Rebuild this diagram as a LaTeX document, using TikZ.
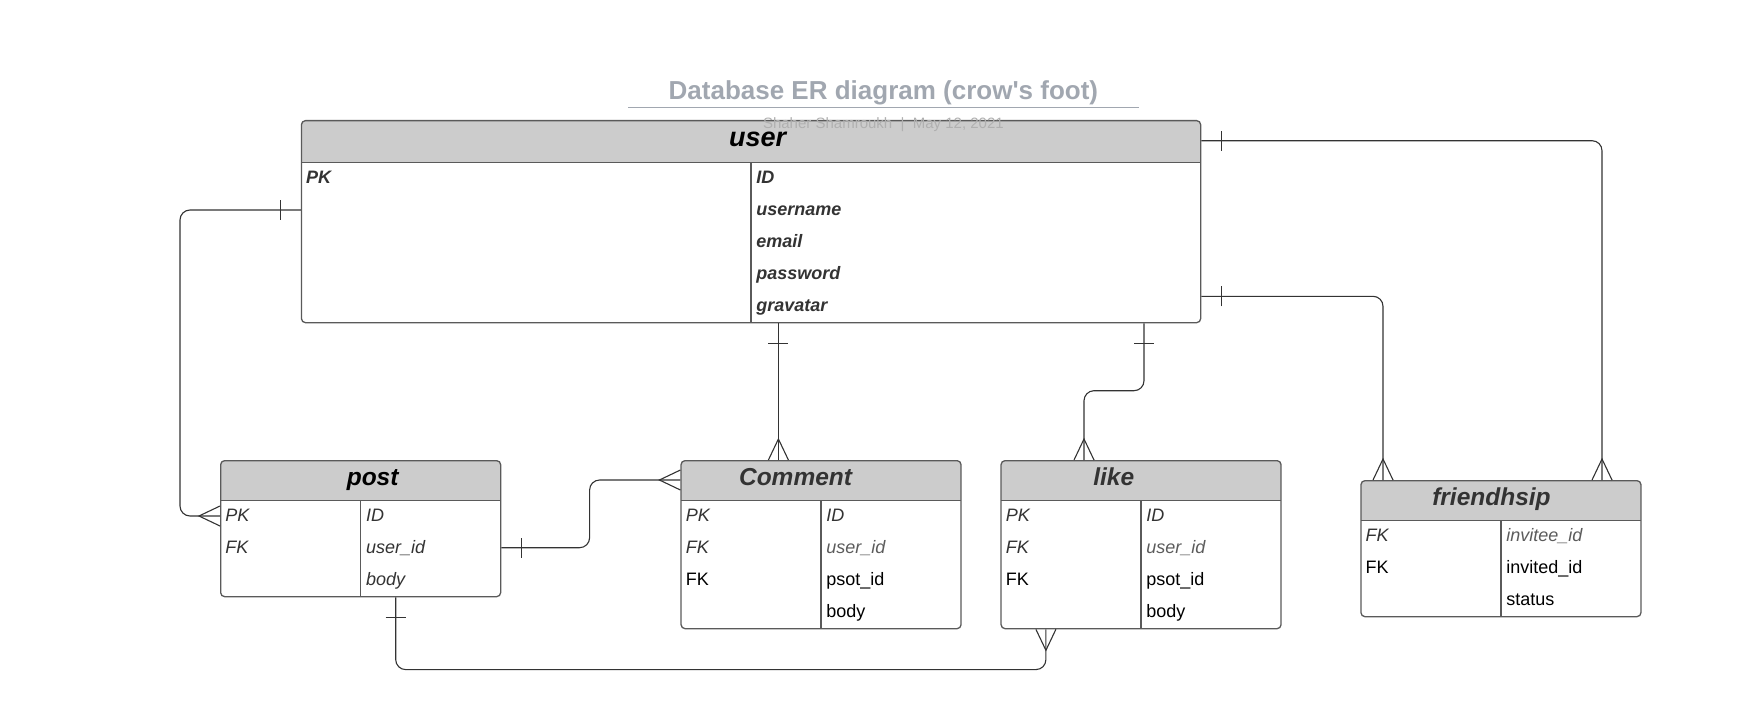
\documentclass[tikz,border=0pt]{standalone}
\usepackage{fontspec}
\setmainfont{Liberation Sans}
\usepackage{tikz}
\usetikzlibrary{arrows.meta}

\definecolor{headfill}{HTML}{CCCCCC}
\definecolor{boxline}{HTML}{5A5A5A}
\definecolor{relline}{HTML}{333333}
\definecolor{titlegray}{HTML}{A1A7B0}
\definecolor{subgray}{HTML}{B0B0B0}
\definecolor{textdark}{HTML}{333333}
\definecolor{textsoft}{HTML}{5C5C5C}

% crow's foot and bar ends
\pgfdeclarearrow{
  name = Many,
  parameters = {\the\pgfarrowlength,\the\pgfarrowwidth},
  setup code = {
    \pgfarrowssettipend{0pt}
    \pgfarrowssetlineend{0pt}
    \pgfarrowssetbackend{-\pgfarrowlength}
    \pgfarrowshullpoint{0pt}{.5\pgfarrowwidth}
    \pgfarrowshullpoint{0pt}{-.5\pgfarrowwidth}
    \pgfarrowshullpoint{-\pgfarrowlength}{0pt}
    \pgfarrowssavethe\pgfarrowlength
    \pgfarrowssavethe\pgfarrowwidth
  },
  drawing code = {
    \pgfpathmoveto{\pgfqpoint{0pt}{.5\pgfarrowwidth}}
    \pgfpathlineto{\pgfqpoint{-\pgfarrowlength}{0pt}}
    \pgfpathlineto{\pgfqpoint{0pt}{-.5\pgfarrowwidth}}
    \pgfusepathqstroke
  },
  defaults = {length=10.5pt, width=10pt}
}
\pgfdeclarearrow{
  name = One,
  parameters = {\the\pgfarrowlength,\the\pgfarrowwidth},
  setup code = {
    \pgfarrowssettipend{0pt}
    \pgfarrowssetlineend{0pt}
    \pgfarrowssetbackend{-\pgfarrowlength}
    \pgfarrowshullpoint{-\pgfarrowlength}{.5\pgfarrowwidth}
    \pgfarrowshullpoint{-\pgfarrowlength}{-.5\pgfarrowwidth}
    \pgfarrowshullpoint{0pt}{0pt}
    \pgfarrowssavethe\pgfarrowlength
    \pgfarrowssavethe\pgfarrowwidth
  },
  drawing code = {
    \pgfpathmoveto{\pgfqpoint{-\pgfarrowlength}{.5\pgfarrowwidth}}
    \pgfpathlineto{\pgfqpoint{-\pgfarrowlength}{-.5\pgfarrowwidth}}
    \pgfusepathqstroke
  },
  defaults = {length=10pt, width=10pt}
}

\begin{document}
\begin{tikzpicture}[
    x=0.5pt, y=-0.5pt,
    entity/.style={rectangle, rounded corners=2pt, draw=boxline, line width=0.65pt, fill=white,
                   anchor=north west, minimum width=140pt, inner sep=0pt,
                   path picture={
                     \fill[headfill, sharp corners] (path picture bounding box.north west)
                       rectangle ([yshift=-#1]path picture bounding box.north east);
                     \draw[boxline, line width=0.65pt, sharp corners]
                       ([yshift=-#1]path picture bounding box.north west) -- ([yshift=-#1]path picture bounding box.north east)
                       ([yshift=-#1]path picture bounding box.north) -- (path picture bounding box.south);}},
    entity/.default=20pt,
    etitle/.style={anchor=base, inner sep=0pt, text=textdark, font=\bfseries\itshape\fontsize{12.25}{14}\selectfont},
    attr/.style={anchor=base west, inner sep=0pt, text=textdark, font=\itshape\fontsize{9}{11}\selectfont},
    attrb/.style={attr, font=\bfseries\itshape\fontsize{9}{11}\selectfont},
    attrs/.style={attr, text=textsoft},
    attrn/.style={attr, text=black, font=\fontsize{9}{11}\selectfont},
    rel/.style={draw=relline, line width=0.55pt, rounded corners=5pt, {One}-{Many}},
]
\useasboundingbox (0,0) rectangle (1760,722);

% Entities
\node[entity=21pt, minimum width=449.6pt, minimum height=101pt] (user) at (300.8,120) {};
\node[entity, minimum height=68pt] (post) at (220,460) {};
\node[entity, minimum height=84pt] (comment) at (680.4,460) {};
\node[entity, minimum height=84pt] (like) at (1000.4,460) {};
\node[entity, minimum height=68pt] (friendship) at (1360.3,480) {};

% Heading
\node[anchor=base, inner sep=0pt, text=titlegray, font=\bfseries\fontsize{13}{15}\selectfont]
  (title) at (883.4,99.5) {Database ER diagram (crow\textquotesingle s foot)};
\draw[titlegray, line width=0.75pt] ([shift={(-40,8.2)}]title.base west) -- ([shift={(40,8.2)}]title.base east);
\node[anchor=base, inner sep=0pt, text=subgray, font=\fontsize{7.5}{9}\selectfont]
  (byline) at ([shift={(0,29)}]title.base) {Shaher Shamroukh\ \ |\ \ May 12, 2021};

% Entity titles
\node[etitle, text=black, font=\bfseries\itshape\fontsize{13.5}{16}\selectfont] (user-title) at ([shift={(6.6,27)}]user.north) {user};
\node[etitle, text=black] (post-title) at ([shift={(12,25.5)}]post.north) {post};
\node[etitle] (comment-title) at ([shift={(-25.5,25)}]comment.north) {Comment};
\node[etitle] (like-title) at ([shift={(-27.3,25)}]like.north) {like};
\node[etitle] (friendship-title) at ([shift={(-9.5,25)}]friendship.north) {friendhsip};

% user rows
\node[attrb] (user-pk) at ([shift={(5,63)}]user.north west) {PK};
\node[attrb] (user-id) at ([shift={(5,63)}]user.north) {ID};
\node[attrb] (user-username) at ([yshift=-16pt]user-id.base west) {username};
\node[attrb] (user-email) at ([yshift=-16pt]user-username.base west) {email};
\node[attrb] (user-password) at ([yshift=-16pt]user-email.base west) {password};
\node[attrb] (user-gravatar) at ([yshift=-16pt]user-password.base west) {gravatar};

% post rows
\node[attr] (post-pk) at ([shift={(5,61)}]post.north west) {PK};
\node[attr] (post-fk) at ([yshift=-16pt]post-pk.base west) {FK};
\node[attr] (post-id) at ([shift={(5,61)}]post.north) {ID};
\node[attr] (post-userid) at ([yshift=-16pt]post-id.base west) {user\_id};
\node[attr] (post-body) at ([yshift=-16pt]post-userid.base west) {body};

% comment rows
\node[attr] (comment-pk) at ([shift={(5,61)}]comment.north west) {PK};
\node[attr] (comment-fk1) at ([yshift=-16pt]comment-pk.base west) {FK};
\node[attrn] (comment-fk2) at ([yshift=-16pt]comment-fk1.base west) {FK};
\node[attr] (comment-id) at ([shift={(5,61)}]comment.north) {ID};
\node[attrs] (comment-userid) at ([yshift=-16pt]comment-id.base west) {user\_id};
\node[attrn] (comment-postid) at ([yshift=-16pt]comment-userid.base west) {psot\_id};
\node[attrn] (comment-body) at ([yshift=-16pt]comment-postid.base west) {body};

% like rows
\node[attr] (like-pk) at ([shift={(5,61)}]like.north west) {PK};
\node[attr] (like-fk1) at ([yshift=-16pt]like-pk.base west) {FK};
\node[attrn] (like-fk2) at ([yshift=-16pt]like-fk1.base west) {FK};
\node[attr] (like-id) at ([shift={(5,61)}]like.north) {ID};
\node[attrs] (like-userid) at ([yshift=-16pt]like-id.base west) {user\_id};
\node[attrn] (like-postid) at ([yshift=-16pt]like-userid.base west) {psot\_id};
\node[attrn] (like-body) at ([yshift=-16pt]like-postid.base west) {body};

% friendship rows
\node[attr] (friendship-fk1) at ([shift={(5,61)}]friendship.north west) {FK};
\node[attrn] (friendship-fk2) at ([yshift=-16pt]friendship-fk1.base west) {FK};
\node[attrs] (friendship-invitee) at ([shift={(5,61)}]friendship.north) {invitee\_id};
\node[attrn] (friendship-invited) at ([yshift=-16pt]friendship-invitee.base west) {invited\_id};
\node[attrn] (friendship-status) at ([yshift=-16pt]friendship-invited.base west) {status};

% Relations
\draw[rel] ([shift={(0,90)}]user.north west) -| ([shift={(-40,56)}]post.north west) -- ([shift={(0,56)}]post.north west);
\draw[rel] ([shift={(98,0)}]comment.north west |- user.south) -- ([shift={(98,0)}]comment.north west);
\draw[rel] ([shift={(143.6,0)}]like.north west |- user.south) |- ([shift={(83.6,-69.3)}]like.north west) -- ([shift={(83.6,0)}]like.north west);
\draw[rel] ([shift={(0,176.3)}]user.north east) -| ([shift={(22.7,0)}]friendship.north west);
\draw[rel] ([shift={(0,20.7)}]user.north east) -| ([shift={(-39.6,0)}]friendship.north east);
\draw[rel] ([shift={(0,87.7)}]post.north east) -| ([shift={(-90.8,20)}]comment.north west) -- ([shift={(0,20)}]comment.north west);
\draw[rel] ([shift={(175.7,0)}]post.south west) |- ([shift={(45.5,40.3)}]like.south west) -- ([shift={(45.5,0)}]like.south west);
\end{tikzpicture}
\end{document}
